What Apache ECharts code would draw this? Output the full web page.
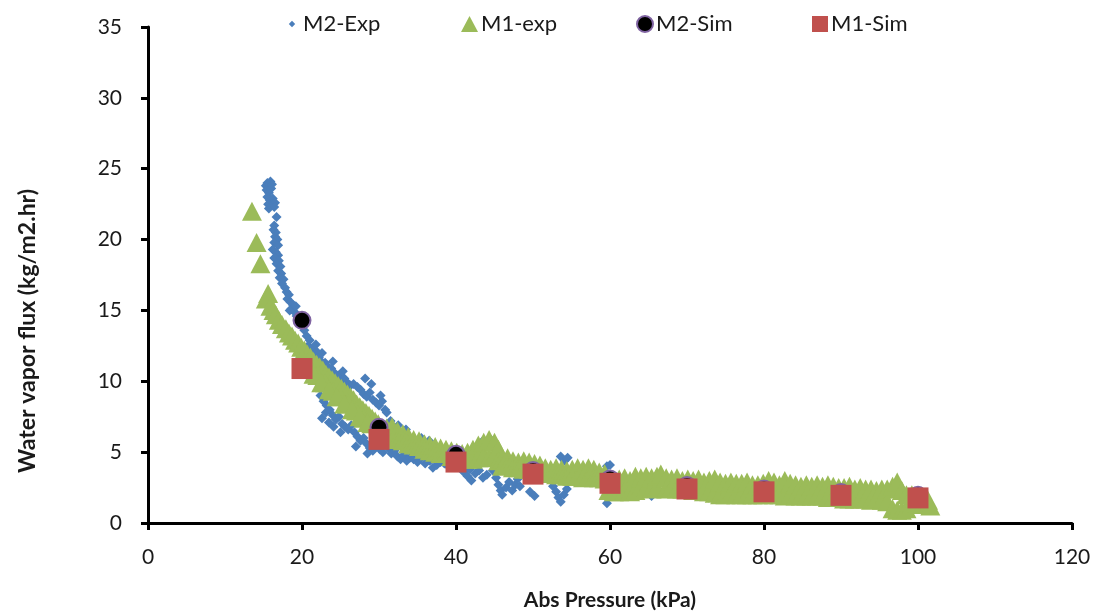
<!DOCTYPE html>
<html>
<head>
<meta charset="utf-8">
<script src="https://cdn.jsdelivr.net/npm/echarts@6/dist/echarts.min.js"></script>
<style>
html,body{margin:0;padding:0;background:#fff;}
#chart{width:1094px;height:616px;}
</style>
</head>
<body>
<div id="chart"></div>
<script>
// ---- Data ----
const xTicks = [0, 20, 40, 60, 80, 100, 120];
const yTicks = [0, 5, 10, 15, 20, 25, 30, 35];
const seriesNames = ['M2-Exp', 'M1-exp', 'M2-Sim', 'M1-Sim'];

// M2-Exp: [Abs pressure kPa, flux]
const m2Exp = [
  [15.3,23.8],[15.5,24.0],[15.7,23.9],[15.9,24.1],[16.1,23.9],[15.4,23.5],[15.7,23.3],[16.0,23.6],
  [15.5,23.0],[15.8,22.8],[16.2,22.9],[16.5,22.6],[15.6,22.5],[15.7,22.2],[16.4,22.3],
  [16.7,21.6],[16.4,21.0],[16.3,20.7],[16.6,20.5],[16.5,20.2],[16.8,20.0],[16.4,19.8],[16.9,19.6],
  [16.2,19.3],[16.6,19.1],[16.9,18.9],[16.4,18.7],[17.0,18.5],[16.7,18.3],[17.2,18.1],
  [16.9,17.8],[17.3,17.6],[17.1,17.3],[17.6,17.2],[17.4,16.9],
  [17.8,16.6],[18.0,16.3],[18.3,16.1],[18.1,15.8],[18.5,15.6],[18.8,15.4],[18.6,15.1],[19.0,14.9],
  [19.3,14.6],[19.6,14.4],[19.9,14.0],[18.4,15.0],[19.2,15.3],
  [20.3,13.6],[20.6,13.2],[21.0,12.9],[20.8,12.5],[21.3,12.3],[21.6,12.0],[21.9,12.1],[22.2,11.7],
  [22.5,11.4],[21.4,11.8],[20.5,10.9],[20.8,10.4],[21.8,12.6],[22.6,12.0],
  [23.0,11.3],[23.4,11.0],[23.8,10.9],[24.2,10.6],[24.7,10.4],[25.1,10.1],[25.5,10.2],[25.9,9.9],
  [26.3,9.7],[26.7,9.8],[24.0,11.4],[25.3,10.7],
  [22.4,9.0],[22.8,8.6],[23.2,8.3],[23.1,7.8],[23.6,8.0],[24.0,7.6],[24.4,7.3],[24.8,7.5],
  [25.2,7.0],[25.6,6.8],[26.0,6.6],[26.4,6.9],[24.1,6.8],[22.6,7.4],[23.5,7.1],[25.0,6.4],
  [27.2,9.6],[27.6,9.4],[28.0,9.1],[28.4,8.9],[28.8,9.2],[29.2,8.7],[29.6,8.5],[30.0,8.3],
  [30.4,8.6],[30.8,8.0],[31.0,7.8],[28.2,10.2],[29.0,9.8],[30.2,9.0],
  [26.8,6.4],[27.2,6.1],[27.6,5.8],[28.0,6.0],[28.4,5.6],[28.8,5.3],[29.2,5.1],[29.6,5.5],
  [30.1,5.2],[30.5,5.0],[27.0,5.4],[28.5,4.9],
  [31.2,5.3],[31.6,4.9],[32.0,5.1],[32.4,4.7],[32.8,4.5],[33.2,4.8],[33.6,4.4],[34.0,4.6],
  [31.5,7.2],[32.5,6.9],[33.5,6.6],
  [34.5,4.5],[35.0,4.3],[35.5,4.6],[36.0,4.2],[36.6,4.4],[37.0,3.9],[37.5,4.1],[38.0,4.3],
  [35.5,6.0],[36.5,5.8],
  [38.5,4.2],[39.0,4.0],[40.5,4.1],[41.0,3.6],[41.5,3.3],[42.0,3.0],[41.8,3.8],
  [43.5,5.8],[44.5,5.9],[45.0,5.6],
  [42.5,3.5],[43.0,3.7],[43.5,3.2],[44.0,3.4],
  [44.8,3.7],[45.2,3.2],[45.5,2.7],[45.8,2.3],[46.0,2.0],[46.5,2.5],[46.9,2.9],[47.3,2.3],
  [47.7,2.7],[48.0,3.1],[48.3,2.6],
  [49.6,2.2],[50.2,1.9],
  [53.6,4.7],[54.1,4.4],[54.5,4.6],
  [52.6,2.6],[53.0,2.2],[53.3,1.8],[53.6,1.5],[54.0,2.0],[54.4,2.4],
  [55.5,3.3],[56.5,3.0],[57.0,3.1],[57.8,3.0],[59.6,4.0],[60.0,4.1],[59.6,1.4],
  [64.8,2.1],[65.4,1.9],[72.0,1.9],[72.8,1.8]
];

// M1-exp
const m1Exp = [
  [13.5,22.0],[14.1,19.8],[14.6,18.3],[15.3,15.8],[15.6,16.2],[15.9,15.3],[16.3,15.0],[16.6,14.7],
  [17.0,14.3],[17.4,14.0],[17.9,13.7],[18.3,13.4],[18.7,13.2],[19.1,12.9],[19.5,12.7],[19.9,12.4],
  [20.3,12.2],[20.7,11.9],[21.1,11.7],[21.5,11.4],[21.9,11.2],[22.3,11.0],[22.7,10.8],[23.1,10.5],
  [23.5,10.3],[23.9,10.1],[24.3,9.9],[24.7,9.7],[25.1,9.5],[25.5,9.3],[25.9,9.1],[26.3,8.9],
  [26.7,8.7],[27.1,8.4],[27.5,8.2],[27.9,8.0],[28.3,7.8],[28.7,7.6],[29.1,7.4],[29.5,7.2],[29.9,7.0],
  [20.0,11.6],[21.0,11.0],[22.0,10.4],[23.0,9.9],[24.0,9.3],[25.0,8.9],[26.0,8.4],[27.0,7.9],
  [28.0,7.4],[29.0,7.0],[30.0,6.6],
  [21.5,10.5],[22.5,9.9],[23.5,9.4],[24.5,8.9],[25.5,8.4],[26.5,8.0],[27.5,7.5],[28.5,7.1],
  [30.3,6.6],[30.3,6.2],[31.0,6.7],[31.0,6.1],[31.7,6.8],[31.7,6.1],[32.4,6.5],[32.4,5.9],
  [33.1,6.3],[33.1,5.8],[33.8,6.1],[33.8,5.6],[34.5,5.9],[34.5,5.5],[35.2,5.8],[35.2,5.4],
  [35.9,5.6],[35.9,5.2],[36.6,5.5],[36.6,5.1],[37.3,5.4],[37.3,5.0],[38.0,5.3],[38.0,4.9],
  [38.7,5.2],[38.7,4.9],[39.4,5.1],[39.4,4.7],[40.1,5.0],[40.1,4.6],[40.8,4.9],[40.8,4.6],
  [41.5,5.0],[41.5,4.5],[42.2,5.2],[42.2,4.5],[42.9,5.5],[42.9,4.6],[43.6,5.7],[43.6,4.7],
  [44.3,5.9],[44.3,4.6],[45.0,5.7],[45.0,4.8],[45.5,5.2],[45.5,4.4],
  [46.0,4.5],[46.0,4.0],[46.7,4.6],[46.7,4.1],[47.4,4.4],[47.4,3.9],[48.1,4.3],[48.1,3.9],
  [48.8,4.4],[48.8,3.8],[49.5,4.3],[49.5,3.8],[50.2,4.2],[50.2,3.7],[50.9,4.1],[50.9,3.7],
  [51.6,3.9],[51.6,3.6],[52.3,3.8],[52.3,3.5],[53.0,3.9],[53.0,3.4],[53.7,3.8],[53.7,3.4],
  [54.4,3.7],[54.4,3.3],[55.1,3.8],[55.1,3.3],[55.8,3.9],[55.8,3.3],[56.5,3.8],[56.5,3.2],
  [57.2,3.9],[57.2,3.3],[57.9,3.8],[57.9,3.2],[58.6,3.6],[58.6,3.2],[59.3,3.5],[59.3,3.1],
  [59.8,2.3],[60.5,2.2],
  [61.2,3.1],[61.2,2.2],[61.9,3.2],[61.9,2.3],[62.6,3.0],[62.6,2.2],[63.3,3.3],[63.3,2.3],
  [64.0,3.2],[64.0,2.5],[64.7,3.3],[64.7,2.5],[65.4,3.2],[65.4,2.4],[66.1,3.3],[66.1,2.5],
  [66.6,3.45],[67.3,3.2],[67.3,2.4],[68.0,3.1],[68.0,2.5],[68.7,3.2],[68.7,2.4],[69.4,3.0],
  [69.4,2.4],[70.1,3.1],[70.1,2.4],[70.8,3.0],[70.8,2.3],[71.5,3.1],[71.5,2.3],[72.2,2.9],
  [72.2,2.2],[72.9,3.0],[72.9,2.2],[73.6,3.1],[73.6,2.1],[74.3,2.9],[74.3,2.0],[75.0,2.8],
  [75.0,2.0],[75.7,2.9],[75.7,2.1],[76.4,2.8],[76.4,2.0],[77.1,2.8],[77.1,2.0],[77.8,2.9],
  [77.8,2.0],[78.5,2.7],[78.5,2.0],[79.2,2.7],[79.2,2.0],[79.9,2.8],[79.9,2.0],[80.6,3.0],
  [80.6,2.1],[81.3,2.9],[81.3,2.0],[82.0,2.7],[82.0,2.0],[82.7,3.0],[82.7,1.9],[83.4,2.8],
  [83.4,2.0],[84.1,2.7],[84.1,1.9],[84.8,2.6],[84.8,1.9],[85.5,2.7],[85.5,1.9],[86.2,2.6],
  [86.2,1.9],[86.9,2.7],[86.9,1.9],[87.6,2.6],[87.6,1.9],[88.3,2.7],[88.3,1.8],[89.0,2.6],
  [89.0,1.8],[89.7,2.5],[89.7,1.8],[90.4,2.5],[90.4,1.7],[91.1,2.6],[91.1,1.7],[91.8,2.4],
  [91.8,1.7],[92.5,2.5],[92.5,1.7],[93.2,2.4],[93.2,1.7],[93.9,2.4],[93.9,1.6],[94.6,2.3],
  [94.6,1.7],[95.3,2.4],[95.3,1.6],[96.0,2.4],[96.0,1.5],[96.7,2.6],[96.7,1.0],[97.3,2.9],
  [97.3,0.9],[97.9,2.3],[97.9,0.9],[98.5,2.0],[98.5,1.0],[99.2,2.0],[99.2,1.3],[99.9,1.9],
  [99.9,1.3],[100.6,1.8],[100.6,1.3],[101.3,1.6],[101.3,1.3],[101.6,1.2]
];

// M2-Sim
const m2Sim = [[20,14.3],[30,6.75],[40,4.85],[50,3.7],[60,3.1],[70,2.65],[80,2.4],[90,2.15],[100,1.95]];
// M1-Sim
const m1Sim = [[20,10.9],[30,5.9],[40,4.3],[50,3.45],[60,2.8],[70,2.4],[80,2.2],[90,1.95],[100,1.77]];

// ---- Styles ----
const FONT = 'Lato, "Open Sans", sans-serif';
const TXT = '#1a1a1a';
const BLUE = '#4A7EBB', GREEN = '#9BBB59', RED = '#C0504D', PURPLE = '#8064A2';

const axisCommon = {
  axisLine: {show: true, lineStyle: {color: '#000', width: 3}},
  axisTick: {show: true, length: 7, lineStyle: {color: '#000', width: 3}},
  splitLine: {show: false},
  axisLabel: {color: TXT, fontSize: 21, fontFamily: FONT}
};

function legendAt(name, left, icon, w, h) {
  return {
    data: [{name: name, icon: icon}],
    left: left, top: 8, orient: 'horizontal',
    itemWidth: w, itemHeight: h, itemGap: 0,
    selectedMode: false,
    textStyle: {color: TXT, fontSize: 22, fontFamily: FONT, padding: [0,0,0,-2]}
  };
}

const chart = echarts.init(document.getElementById('chart'), null, {renderer: 'canvas'});
chart.setOption({
  animation: false,
  backgroundColor: '#fff',
  grid: {left: 148, right: 22, top: 27, bottom: 88, containLabel: false},
  legend: [
    legendAt(seriesNames[0], 279, 'path://M0,0M20,20M10,6L14,10L10,14L6,10Z', 16, 16),
    legendAt(seriesNames[1], 456, 'triangle', 17, 16),
    legendAt(seriesNames[2], 631, 'circle', 16, 16),
    legendAt(seriesNames[3], 807, 'rect', 16, 16)
  ],
  xAxis: Object.assign({}, axisCommon, {
    type: 'value', min: xTicks[0], max: xTicks[xTicks.length - 1], interval: 20,
    axisLabel: Object.assign({}, axisCommon.axisLabel, {margin: 24}),
    name: 'Abs Pressure (kPa)', nameLocation: 'middle', nameGap: 67,
    nameTextStyle: {color: TXT, fontSize: 21, fontWeight: 'bold', fontFamily: FONT}
  }),
  yAxis: Object.assign({}, axisCommon, {
    type: 'value', min: yTicks[0], max: yTicks[yTicks.length - 1], interval: 5,
    axisLabel: Object.assign({}, axisCommon.axisLabel, {margin: 26})
  }),
  graphic: [{
    type: 'text', x: 28, y: 331, rotation: Math.PI / 2,
    style: {text: 'Water vapor flux (kg/m2.hr)', fill: TXT, fontSize: 23, fontWeight: 'bold',
            fontFamily: FONT, align: 'center', verticalAlign: 'middle'}
  }],
  series: [
    {name: seriesNames[0], type: 'scatter', data: m2Exp, symbol: 'diamond', symbolSize: 10,
     itemStyle: {color: BLUE, opacity: 1}},
    {name: seriesNames[1], type: 'scatter', data: m1Exp, symbol: 'triangle', symbolSize: [20, 19],
     itemStyle: {color: GREEN, opacity: 1}},
    {name: seriesNames[2], type: 'scatter', data: m2Sim, symbol: 'circle', symbolSize: 17,
     itemStyle: {color: '#000', borderColor: PURPLE, borderWidth: 2, opacity: 1}},
    {name: seriesNames[3], type: 'scatter', data: m1Sim, symbol: 'rect', symbolSize: 21,
     itemStyle: {color: RED, opacity: 1}}
  ]
});
</script>
</body>
</html>
